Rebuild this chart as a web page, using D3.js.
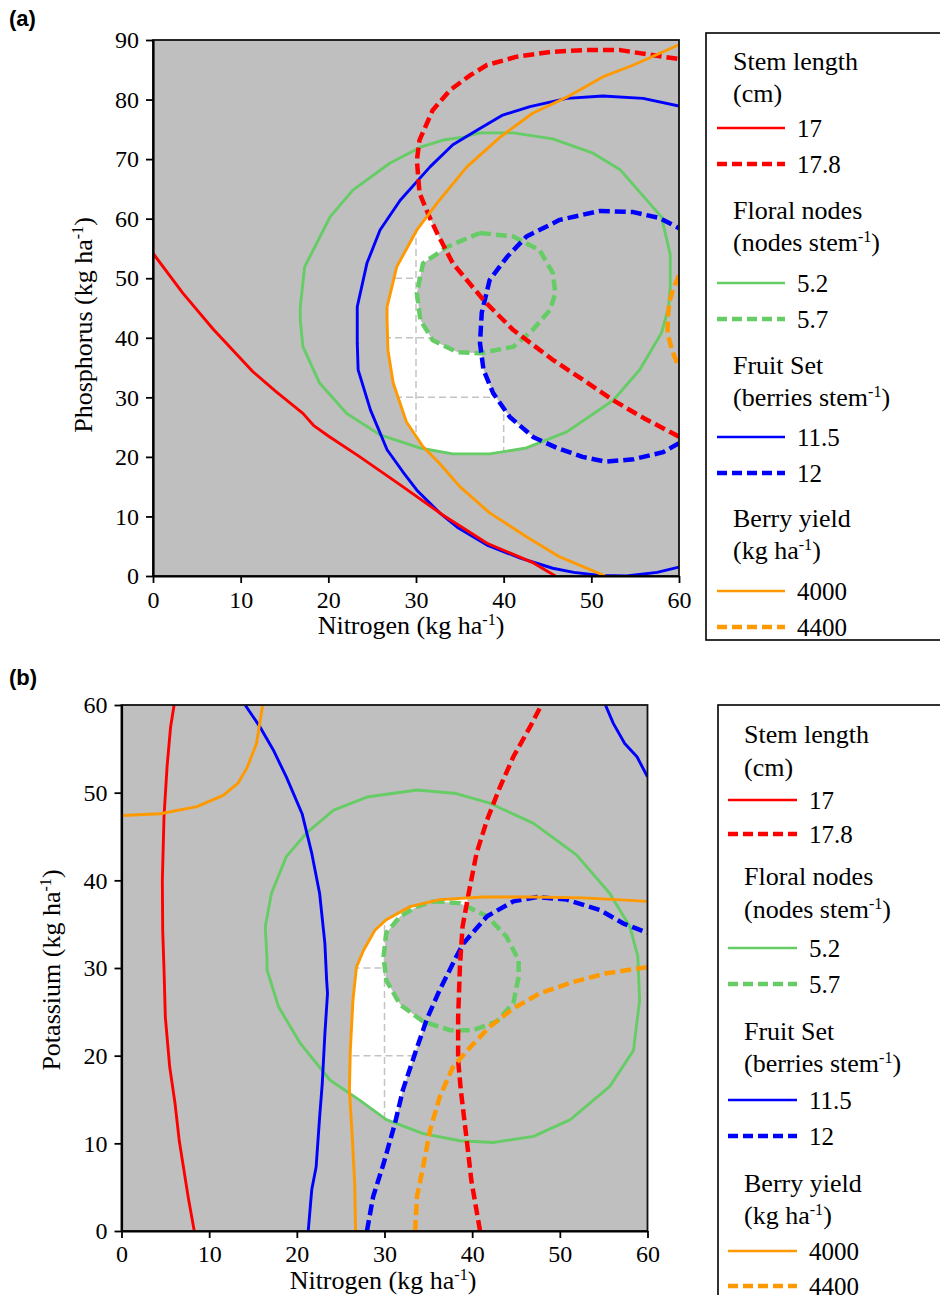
<!DOCTYPE html>
<html>
<head>
<meta charset="utf-8">
<script src="https://cdn.jsdelivr.net/npm/d3@7"></script>
<style>
  html, body { margin: 0; padding: 0; background: #fff; }
  svg { display: block; }
  text { font-family: "Liberation Serif", "Times New Roman", serif; fill: #000; }
  text.tag { font-family: "Liberation Sans", Arial, sans-serif; font-weight: bold; }
</style>
</head>
<body>
<svg id="chart" width="940" height="1295"></svg>
<script>
// ---------- tick values ----------
const nTicks = [0, 10, 20, 30, 40, 50, 60];
const pTicks = [0, 10, 20, 30, 40, 50, 60, 70, 80, 90];
const kTicks = [0, 10, 20, 30, 40, 50, 60];

// ---------- panel (a): nitrogen (x) vs phosphorus (y) contour lines ----------
const aStem17 = [[0,54.2],[3.4,47.5],[6.9,41.4],[11.4,34.3],[14,31],[17.1,27.3],[18.3,25.3],[20,23.5],[23.6,20],[28.2,15.3],[33.1,10.2],[38.1,5.5],[43.4,2.2],[45.9,0]];
const aStem178 = [[60,23.4],[56,26.5],[52.5,29.5],[49,33],[45.6,36.3],[41.1,41.3],[37.9,46],[34.2,52.5],[32.4,57.6],[31.5,60.4],[30.4,64.3],[30.1,69.8],[30.4,73.2],[31.9,78.2],[33.9,81.6],[36.2,84.1],[38.1,85.8],[41.5,87.2],[45.3,88],[49,88.3],[53.3,88.3],[55.5,87.8],[60,86.8]];
const aFloral52 = [[58,40.8],[58.8,45],[59,48.5],[59,54],[58,60.3],[55.5,64.5],[53.3,68.2],[50.2,71],[45.6,73.4],[41.1,74.4],[37.3,74.4],[35.4,73.7],[33.1,73.2],[30.5,72],[27,69.3],[22.8,64.8],[20.2,60.3],[17.3,51.9],[16.8,45.2],[16.8,43],[17.1,38.5],[19,32.4],[22.1,27.3],[25.9,23.7],[30.4,21.5],[34.2,20.5],[38.4,20.5],[42.6,21.5],[47.2,24.2],[52.5,29.5],[55.5,34.6],[58,40.8]];
const aFloral57 = [[37.3,57.6],[41.1,57],[44.1,54.7],[45.6,50.9],[45.9,47.5],[45.3,44.7],[43.3,41.3],[41.1,38.5],[37.3,37.4],[34.7,37.6],[31.9,39.6],[30.5,43],[30.1,47.5],[30.8,52.5],[33.5,55.2],[35.8,56.7],[37.3,57.6]];
const aFruit115 = [[60,1.5],[57.5,0.6],[54,0],[51,0.1],[48,0.6],[45.6,1.3],[41.9,3],[38.1,5.2],[34.7,8.2],[32.7,10.6],[30.1,14.4],[28.5,17.5],[26.7,21.2],[24.8,27.9],[23.4,34.6],[23.3,39.1],[23.3,45.2],[24.4,52.5],[25.9,58.1],[28.2,63.1],[31.6,68.7],[34.2,72.4],[37,74.9],[39.9,77.4],[43,78.8],[47.2,80.2],[51.3,80.6],[55.9,80.2],[60,78.9]];
const aFruit12 = [[60,22.3],[58.2,20.8],[54.8,19.6],[51.6,19.2],[49,20],[46.1,21.5],[43.4,23.3],[40.7,26.7],[38.8,30.7],[37.7,34.6],[37.3,39.1],[37.5,44.2],[38.4,49.7],[40.4,53.6],[42.6,57],[46.4,59.8],[51,61.3],[54.8,61.1],[57.8,60.1],[60,58.4]];
const aYield4000 = [[51.6,0],[46.4,3.2],[42.6,6.6],[38.4,10.6],[35,15],[32.7,18.9],[30.8,21.7],[28.9,25.9],[27.4,32.4],[26.8,37.9],[26.7,43],[26.7,45.2],[27.8,51.9],[30.1,58.1],[32.4,62.6],[35.8,68.7],[39.6,73.7],[43.3,77.7],[47.2,80.4],[51.3,83.8],[54.8,85.8],[60,89.2]];
const aYield4400 = [[60,50.5],[59.3,48],[58.9,46],[58.7,43],[58.7,40.8],[59.2,37.9],[60,35]];

// ---------- panel (b): nitrogen (x) vs potassium (y) contour lines ----------
const bStem17 = [[8.3,0],[7.6,3.9],[7,7.7],[6.6,10.2],[6.1,14.6],[5.5,18.7],[5.0,24.4],[4.85,29.8],[4.7,34.3],[4.66,40],[4.85,47.3],[5.2,53],[5.6,57.5],[6,60]];
const bStem178 = [[40.9,0],[39.9,5.8],[39.6,8.5],[39.2,11.9],[38.7,16.1],[38.4,19.5],[38.4,24.4],[38.6,30.1],[38.9,34.7],[39.6,38.5],[40.5,43.1],[41.7,46.9],[43.2,50.7],[44.7,54.1],[46.6,57.5],[47.9,60]];
const bFloral52 = [[33.7,50.3],[28,49.5],[24.2,48],[21.1,45.4],[18.8,42.7],[17.1,38.5],[16.4,34.7],[16.6,30.9],[16.6,29.8],[17.9,25.6],[20.4,21.4],[23.8,17.2],[27.2,14.9],[30.2,12.7],[34.4,11.1],[38.6,10.3],[42.4,10.1],[47,10.8],[51.2,12.7],[55.7,16.5],[58.4,20.6],[59.1,26.3],[58.9,31.3],[58,34.7],[55.7,38.5],[51.9,42.9],[47,46.5],[42,48.8],[38.2,49.9],[33.7,50.3]];
const bFloral57 = [[35.6,37.6],[38.6,37.4],[41.7,35.9],[43.9,33.6],[45.3,30.9],[45.3,29],[44.7,26],[42.8,23.9],[40.1,22.9],[37.5,22.9],[34.4,23.9],[31.8,25.8],[30.2,28.6],[29.9,31.3],[30.2,34],[31.8,35.9],[33.7,37],[35.6,37.6]];
const bFruit115Left = [[21.3,0],[21.7,4.7],[22.2,7.3],[22.6,13],[22.9,16.8],[23.2,22.5],[23.5,27.1],[23.4,28.6],[23.2,32.8],[22.6,38.5],[21.7,43.1],[20.6,47.6],[18.8,51.8],[17.3,54.9],[15.8,57.5],[14.1,60]];
const bFruit115Right = [[55.2,60],[56.1,57.9],[57.4,55.6],[58.8,54.1],[60,51.8]];
const bFruit12 = [[28,0],[28.7,3.9],[29.9,7.7],[31.2,12.3],[32.1,16.1],[33.5,20.3],[34.8,24.1],[36.3,27.5],[38.2,31.3],[39,32.8],[41.7,35.9],[44.7,37.6],[47.4,38.1],[50.8,37.8],[54.6,36.6],[57.2,35.1],[60,34]];
const bYield4000Upper = [[0,47.4],[4.4,47.6],[8.6,48.4],[11.6,49.7],[13.3,51.1],[14.3,52.8],[15.4,55.6],[15.7,57.5],[16.1,60]];
const bYield4000Lower = [[26.7,0],[26.6,5.4],[26.3,11.1],[26,16.1],[26.1,20.6],[26.4,26.3],[26.8,30.1],[27.6,32],[28.9,34.3],[30.2,35.5],[32.9,37],[36.3,37.8],[41.3,38.1],[47,38.1],[52.7,38],[56.5,37.8],[60,37.6]];
const bYield4400 = [[33.5,0],[33.7,3.9],[34.4,7.3],[35.2,11.5],[36.3,15.3],[37.8,18.7],[39.8,21],[42,23.3],[44.7,25.4],[47.7,27.1],[51.5,28.4],[55.3,29.4],[60,30.1]];

// ---------- legend content ----------
const legendGroups = [
  { key: "stem",   title: ["Stem length", "(cm)"],               values: ["17", "17.8"] },
  { key: "floral", title: ["Floral nodes", "(nodes stem^-1^)"],  values: ["5.2", "5.7"] },
  { key: "fruit",  title: ["Fruit Set", "(berries stem^-1^)"],   values: ["11.5", "12"] },
  { key: "yield",  title: ["Berry yield", "(kg ha^-1^)"],        values: ["4000", "4400"] }
];

// ---------- styles ----------
const colors = { stem: "#ff0000", floral: "#66cc66", fruit: "#0000ff", yield: "#ff9900" };
const solidWidth = 2.9, dashedWidth = 4.5, dashPattern = "11,5";
const bgGray = "#bfbfbf";

const svg = d3.select("#chart");
const defs = svg.append("defs");

// Append superscript-aware text: parts between ^...^ are raised
function rich(textSel, str, size) {
  let raised = false;
  const lift = size * 0.36;
  str.split("^").forEach((p, i) => {
    if (!p) return;
    const sup = i % 2 === 1;
    const t = textSel.append("tspan").text(p).attr("font-size", sup ? size * 0.62 : size);
    if (sup && !raised) { t.attr("dy", -lift); raised = true; }
    else if (!sup && raised) { t.attr("dy", lift); raised = false; }
  });
}

// Close a curve that ends on the right edge into a filled region on its right side
function closeRight(pts, xEdge) {
  const f = pts[0], l = pts[pts.length - 1];
  const out = pts.concat([[xEdge, l[1]]]);
  if (f[1] <= 0) out.push([xEdge, -5], [f[0], -5]);
  else out.push([xEdge, f[1]]);
  return out;
}

function drawPanel(cfg) {
  const x = d3.scaleLinear().domain([0, 60]).range([cfg.left, cfg.right]);
  const y = d3.scaleLinear().domain([0, cfg.yMax]).range([cfg.bottom, cfg.top]);
  const line = d3.line().x(d => x(d[0])).y(d => y(d[1]));
  const g = svg.append("g");
  const id = cfg.id;

  // clip to plotting area
  defs.append("clipPath").attr("id", id + "-plot")
    .append("rect").attr("x", cfg.left).attr("y", cfg.top)
    .attr("width", cfg.right - cfg.left).attr("height", cfg.bottom - cfg.top);

  // feasible window: inside the 5.2 node loop, beyond the yield line, minus the cut regions
  defs.append("clipPath").attr("id", id + "-inside")
    .append("path").attr("d", line(cfg.feasible.inside));
  const mask = defs.append("mask").attr("id", id + "-mask")
    .attr("maskUnits", "userSpaceOnUse").attr("x", 0).attr("y", 0).attr("width", 940).attr("height", 1295);
  mask.append("rect").attr("x", 0).attr("y", 0).attr("width", 940).attr("height", 1295).attr("fill", "#000");
  mask.append("g").attr("clip-path", `url(#${id}-inside)`)
    .append("path").attr("d", line(cfg.feasible.keep) + "Z").attr("fill", "#fff");
  cfg.feasible.cut.forEach(pts => mask.append("path").attr("d", line(pts) + "Z").attr("fill", "#000"));

  const plot = g.append("g").attr("clip-path", `url(#${id}-plot)`);
  plot.append("rect").attr("x", cfg.left).attr("y", cfg.top)
    .attr("width", cfg.right - cfg.left).attr("height", cfg.bottom - cfg.top).attr("fill", bgGray);

  const win = plot.append("g").attr("mask", `url(#${id}-mask)`);
  win.append("rect").attr("x", cfg.left).attr("y", cfg.top)
    .attr("width", cfg.right - cfg.left).attr("height", cfg.bottom - cfg.top).attr("fill", "#fff");
  const grid = win.append("g").attr("stroke", "#c3c3c3").attr("stroke-width", 1.5).attr("stroke-dasharray", "7,4");
  grid.selectAll("line.v").data(nTicks).join("line")
    .attr("x1", d => x(d)).attr("x2", d => x(d)).attr("y1", cfg.top).attr("y2", cfg.bottom);
  grid.selectAll("line.h").data(cfg.yTicks).join("line")
    .attr("y1", d => y(d)).attr("y2", d => y(d)).attr("x1", cfg.left).attr("x2", cfg.right);

  // contour lines
  plot.selectAll("path.contour").data(cfg.series).join("path")
    .attr("class", "contour")
    .attr("d", d => line(d.pts))
    .attr("fill", "none")
    .attr("stroke", d => colors[d.key])
    .attr("stroke-width", d => d.dashed ? dashedWidth : solidWidth)
    .attr("stroke-dasharray", d => d.dashed ? dashPattern : null)
    .attr("stroke-linejoin", "round");

  // frame
  g.append("rect").attr("x", cfg.left).attr("y", cfg.top)
    .attr("width", cfg.right - cfg.left).attr("height", cfg.bottom - cfg.top)
    .attr("fill", "none").attr("stroke", "#111").attr("stroke-width", 1.8);

  // axes
  const ax = g.append("g").attr("transform", `translate(0,${cfg.bottom})`)
    .call(d3.axisBottom(x).tickValues(nTicks).tickSize(7).tickSizeOuter(0).tickPadding(cfg.xPad));
  const ay = g.append("g").attr("transform", `translate(${cfg.left},0)`)
    .call(d3.axisLeft(y).tickValues(cfg.yTicks).tickSize(7).tickSizeOuter(0).tickPadding(7));
  [ax, ay].forEach(a => {
    a.select(".domain").attr("stroke", "#000").attr("stroke-width", 2.2);
    a.selectAll(".tick line").attr("stroke", "#000").attr("stroke-width", 1.8);
    a.selectAll(".tick text").attr("font-size", 24).attr("fill", "#000");
  });

  // axis titles
  const xt = g.append("text").attr("x", cfg.xTitle[0]).attr("y", cfg.xTitle[1]).attr("text-anchor", "middle");
  rich(xt, "Nitrogen (kg ha^-1^)", 26);
  const yt = g.append("text").attr("text-anchor", "middle")
    .attr("transform", `translate(${cfg.yTitle[0]},${cfg.yTitle[1]}) rotate(-90)`);
  rich(yt, cfg.yLabel, 26);

  // panel tag
  g.append("text").attr("class", "tag").attr("x", cfg.tag[0]).attr("y", cfg.tag[1])
    .attr("font-size", 22).text(cfg.tagText);

  // legend
  const L = cfg.legend;
  const lg = g.append("g");
  lg.append("rect").attr("x", L.x).attr("y", L.y).attr("width", L.w).attr("height", L.h)
    .attr("fill", "#fff").attr("stroke", "#000").attr("stroke-width", 1.6);
  legendGroups.forEach((grp, gi) => {
    grp.title.forEach((t, ti) => {
      const tx = lg.append("text").attr("x", L.titleX).attr("y", L.titleY[gi][ti] + 8);
      rich(tx, t, 26);
    });
    grp.values.forEach((v, vi) => {
      const cy = L.itemY[gi][vi];
      lg.append("line").attr("x1", L.lineX[0]).attr("x2", L.lineX[1]).attr("y1", cy).attr("y2", cy)
        .attr("stroke", colors[grp.key])
        .attr("stroke-width", vi ? dashedWidth : solidWidth - 0.3)
        .attr("stroke-dasharray", vi ? "10,5" : null);
      lg.append("text").attr("x", L.labelX).attr("y", cy + 9).attr("font-size", 25).text(v);
    });
  });
}

drawPanel({
  id: "pa", tagText: "(a)", tag: [9, 26],
  left: 153, right: 679, top: 40, bottom: 576, yMax: 90, yTicks: pTicks, xPad: 8,
  xTitle: [411, 634], yTitle: [92, 325], yLabel: "Phosphorus (kg ha^-1^)",
  series: [
    { key: "floral", pts: aFloral52 }, { key: "floral", pts: aFloral57, dashed: true },
    { key: "fruit", pts: aFruit115 }, { key: "fruit", pts: aFruit12, dashed: true },
    { key: "stem", pts: aStem17 }, { key: "stem", pts: aStem178, dashed: true },
    { key: "yield", pts: aYield4000 }, { key: "yield", pts: aYield4400, dashed: true }
  ],
  feasible: {
    inside: aFloral52,
    keep: closeRight(aYield4000, 65),
    cut: [closeRight(aStem178, 65), aFloral57, closeRight(aFruit12, 65)]
  },
  legend: {
    x: 706, y: 33, w: 250, h: 607, titleX: 733, lineX: [717, 785], labelX: 797,
    titleY: [[62, 94], [211, 243], [366, 398], [519, 551]],
    itemY: [[128, 164], [283, 319], [437, 473], [591, 627]]
  }
});

drawPanel({
  id: "pb", tagText: "(b)", tag: [9, 685],
  left: 121.5, right: 647.5, top: 705, bottom: 1231, yMax: 60, yTicks: kTicks, xPad: 7,
  xTitle: [383, 1289], yTitle: [60, 970], yLabel: "Potassium (kg ha^-1^)",
  series: [
    { key: "floral", pts: bFloral52 }, { key: "floral", pts: bFloral57, dashed: true },
    { key: "fruit", pts: bFruit115Left }, { key: "fruit", pts: bFruit115Right },
    { key: "fruit", pts: bFruit12, dashed: true },
    { key: "stem", pts: bStem17 }, { key: "stem", pts: bStem178, dashed: true },
    { key: "yield", pts: bYield4000Upper }, { key: "yield", pts: bYield4000Lower },
    { key: "yield", pts: bYield4400, dashed: true }
  ],
  feasible: {
    inside: bFloral52,
    keep: closeRight(bYield4000Lower, 65),
    cut: [bFloral57, closeRight(bFruit12, 65), closeRight(bStem178, 65)]
  },
  legend: {
    x: 718, y: 705, w: 240, h: 620, titleX: 744, lineX: [728, 797], labelX: 809,
    titleY: [[735, 768], [877, 910], [1032, 1064], [1184, 1216]],
    itemY: [[800, 834], [948, 984], [1100, 1136], [1251, 1286]]
  }
});
</script>
</body>
</html>
